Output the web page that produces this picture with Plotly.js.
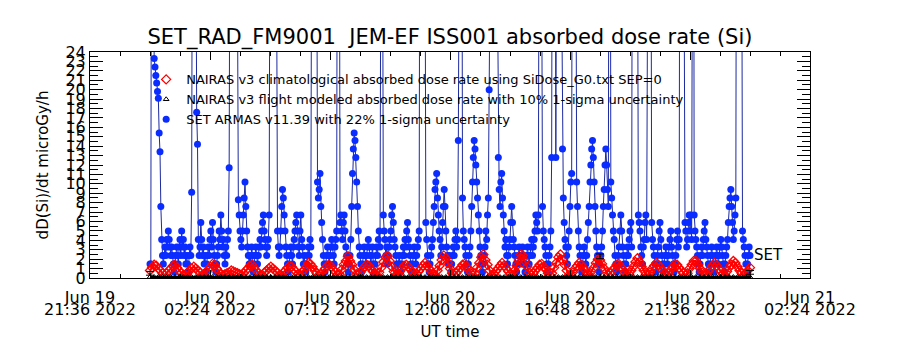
<!DOCTYPE html>
<html><head><meta charset="utf-8">
<script src="https://cdn.plot.ly/plotly-3.0.1.min.js"></script>
<style>html,body{margin:0;padding:0;background:#fff}#chart{width:900px;height:350px}</style>
</head><body><div id="chart"></div>
<script>
// ---- data (times in minutes after 2022-06-20 00:00 UT) ----
const startMs = Date.UTC(2022, 5, 20, 0, 0, 0);
const tickTimes = ['2022-06-19 21:36','2022-06-20 02:24','2022-06-20 07:12','2022-06-20 12:00','2022-06-20 16:48','2022-06-20 21:36','2022-06-21 02:24'];
const tickDayLabels = ['Jun 19','Jun 20','Jun 20','Jun 20','Jun 20','Jun 20','Jun 21'];
const tickTimeLabels = ['21:36 2022','02:24 2022','07:12 2022','12:00 2022','16:48 2022','21:36 2022','02:24 2022'];

// NAIRAS v3 climatological (5-min cadence)
const nairasClimStep = 5;
const nairasClim = [
0.8,1.1,1.4,1.3,1.0,0.8,0.5,0.3,0.5,0.8,1.0,1.3,
1.4,1.1,0.8,0.5,0.3,0.3,0.6,0.8,1.0,1.2,1.0,0.8,
0.6,0.3,0.3,0.6,0.9,1.2,1.5,1.4,1.0,0.7,0.4,0.3,
0.4,0.5,0.6,0.8,0.7,0.6,0.5,0.4,0.3,0.5,0.8,1.0,
1.3,1.4,1.1,0.8,0.5,0.3,0.3,0.6,0.8,1.0,1.2,1.0,
0.8,0.6,0.3,0.3,0.6,0.8,1.1,1.3,1.2,0.9,0.7,0.4,
0.3,0.6,0.9,1.2,1.6,1.5,1.2,0.8,0.5,0.3,0.4,0.7,
1.0,1.3,1.4,1.2,0.9,0.6,0.3,0.4,0.9,1.4,1.8,2.3,
1.8,1.4,0.9,0.4,0.3,0.6,0.9,1.2,1.4,1.3,1.0,0.7,
0.4,0.3,0.6,1.1,1.7,2.2,2.3,1.8,1.2,0.7,0.3,0.4,
0.7,1.0,1.3,1.4,1.2,0.9,0.6,0.3,0.4,0.7,1.0,1.3,
1.6,1.3,1.0,0.7,0.4,0.3,0.8,1.3,1.9,2.4,2.1,1.6,
1.0,0.5,0.3,0.5,0.8,1.1,1.4,1.5,1.2,0.9,0.5,0.3,
0.5,1.1,1.6,2.2,2.5,1.9,1.4,0.8,0.3,0.4,0.7,1.0,
1.3,1.6,1.3,1.0,0.7,0.4,0.3,0.8,1.3,1.9,2.5,2.4,
1.8,1.2,0.6,0.3,0.5,0.8,1.1,1.4,1.5,1.2,0.9,0.5,
0.3,0.5,1.1,1.6,2.2,2.5,1.9,1.4,0.8,0.3,0.3,0.6,
1.0,1.3,1.6,1.4,1.1,0.8,0.4,0.3,0.7,1.1,1.6,2.0,
1.9,1.5,1.0,0.6,0.3,0.5,0.8,1.1,1.4,1.5,1.2,0.9,
0.5,0.3,0.4,0.8,1.2,1.7,2.1,1.7,1.2,0.8,0.4,0.3,
0.6,1.0,1.3,1.6,1.4,1.1,0.8,0.4,0.3,0.5,0.9,1.2,
1.5,1.4,1.1,0.8,0.5,0.3,0.5,1.0,1.4,1.8,1.8,1.4,
1.0,0.6,0.3,0.4,0.7,1.0,1.3,1.6,1.3,1.0,0.7,0.4,
0.3,0.7,1.1,1.4,1.8,1.6,1.2,0.8,0.5,0.3,0.5,0.8,
1.1];

// NAIRAS v3 flight modeled (10-min cadence)
const nairasFlightStep = 10;
const nairasFlight = [
0.1,0.1,0.1,0.1,0.1,0.1,0.1,0.1,0.1,0.1,0.1,0.1,0.1,0.1,0.1,0.1,0.1,0.1,0.1,0.1,0.1,0.1,0.1,0.1,
0.1,0.1,0.1,0.1,0.1,0.1,0.1,0.1,0.1,0.1,0.1,0.1,0.1,0.1,0.1,0.1,0.1,0.1,0.1,0.1,0.1,0.1,0.1,0.1,
0.1,0.1,0.1,0.1,0.1,0.1,0.1,0.1,0.1,0.1,0.1,0.1,0.1,0.1,0.1,0.1,0.1,0.1,0.1,0.1,0.1,0.1,0.1,0.1,
0.1,0.1,0.1,0.1,0.1,0.1,0.1,0.1,0.1,0.1,0.1,0.1,0.1,0.1,0.1,0.1,0.1,0.1,0.1,0.1,0.1,0.1,0.1,0.1,
0.1,0.1,0.1,0.1,0.1,0.1,0.1,0.1,0.1,0.1,0.1,0.1,0.1,0.1,0.1,0.1,0.1,0.1,0.1,0.1,0.1,0.1,0.1,0.1,
0.1,0.1,0.1,0.1,0.1,0.1,0.1,0.1,0.1,0.1,0.1,0.1,0.1,0.1,0.1,0.1,0.1,0.1,0.1,0.1,0.1,0.1,0.1,0.1,
0.1];
// uncertainty markers
const errTimes = [0, 1080, 1440];
const errValues = [0.5, 2.3, 0.6];
const errSigma = [0.2, 0.25, 0.2];

// SET ARMAS v11.39 (2-min cadence), values above 24 run off the top
const setStep = 2;
const setArmas = [
1.5,1.5,60,80,40,23.3,22.4,21.5,20.7,19.8,19.1,15.4,13.4,7.6,4.1,2.4,1.5,2.4,3.3,2.4,4.1,3.3,5.0,4.1,3.3,2.4,3.3,2.4,1.5,0.65,
1.5,2.4,3.3,2.4,1.5,3.3,4.1,2.4,5.0,3.3,4.1,2.4,3.3,1.5,2.4,1.5,0.65,2.4,3.3,2.4,9.1,50,70,70,60,40,17.6,14.2,4.1,2.4,
3.3,5.9,4.1,2.4,3.3,1.5,2.4,0.65,1.5,2.4,3.3,2.4,4.1,5.0,3.3,5.9,4.1,2.4,1.5,0.65,1.5,2.4,3.3,5.0,4.1,6.7,5.0,3.3,4.1,2.4,
1.5,3.3,2.4,4.1,5.0,11.7,60,80,80,70,60,50,50,40,40,30,8.3,6.7,5.0,4.1,3.3,5.0,6.7,8.5,10.2,7.6,5.0,3.3,2.4,1.5,
2.4,1.5,3.3,2.4,0.65,1.5,2.4,3.3,2.4,1.5,2.4,3.3,4.1,3.3,5.0,5.9,6.7,5.0,4.1,3.3,2.4,3.3,4.1,6.7,60,80,80,70,60,50,
50,40,30,5.0,3.3,2.4,3.3,5.0,7.6,9.4,8.5,6.7,5.0,3.3,2.4,1.5,0.65,1.5,2.4,3.3,2.4,1.5,3.3,4.1,5.0,5.9,6.7,5.0,3.3,2.4,
5.0,6.7,4.1,3.3,1.5,2.4,1.5,0.65,1.5,2.4,3.3,2.4,4.1,3.3,60,80,80,80,70,60,40,10.2,8.5,9.4,11.1,7.6,5.9,4.1,2.4,1.5,
0.65,1.5,2.4,3.3,2.4,1.5,2.4,3.3,4.1,3.3,2.4,1.5,3.3,4.1,5.0,60,80,60,5.9,6.7,5.0,4.1,5.9,6.7,5.0,3.3,2.4,1.5,0.65,1.5,
2.4,4.1,7.6,11.1,13.7,15.4,14.6,12.8,10.2,7.6,5.0,3.3,2.4,1.5,0.65,1.5,2.4,3.3,2.4,1.5,2.4,3.3,4.1,3.3,2.4,1.5,2.4,3.3,1.5,0.65,
1.5,2.4,3.3,2.4,4.1,5.0,3.3,60,70,40,6.7,5.0,4.1,2.4,3.3,1.5,2.4,3.3,4.1,5.0,6.7,7.6,5.9,4.1,3.3,2.4,1.5,0.65,1.5,2.4,
1.5,0.65,1.5,2.4,3.3,2.4,4.1,3.3,5.0,5.9,4.1,3.3,2.4,1.5,0.65,1.5,2.4,3.3,2.4,1.5,2.4,3.3,4.1,5.0,60,80,80,80,70,60,
40,5.9,4.1,2.4,1.5,0.65,1.5,2.4,3.3,4.1,5.9,7.6,9.4,10.2,11.1,8.5,6.7,5.0,4.1,2.4,3.3,5.9,7.6,9.4,7.6,5.0,3.3,2.4,1.5,2.4,
1.5,0.65,1.5,2.4,3.3,2.4,4.1,5.0,3.3,4.1,14.6,60,80,80,60,8.5,5.0,4.1,3.3,2.4,1.5,0.65,1.5,2.4,3.3,5.0,7.6,10.2,12.8,14.6,
13.7,12.0,10.2,8.5,6.7,5.0,3.3,2.4,1.5,0.65,1.5,2.4,3.3,5.0,4.1,6.7,8.5,20,70,80,80,80,80,70,60,50,40,30,12.8,9.4,
7.6,10.2,11.1,8.5,6.7,5.0,3.3,4.1,2.4,1.5,2.4,3.3,4.1,5.9,7.6,5.9,4.1,3.3,2.4,1.5,0.65,1.5,2.4,3.3,2.4,1.5,2.4,3.3,2.4,1.5,
0.65,1.5,2.4,3.3,2.4,1.5,2.4,3.3,4.1,2.4,3.3,4.1,5.0,6.7,5.9,5.0,6.7,60,80,60,30,7.6,5.0,4.1,3.3,2.4,1.5,0.65,1.5,2.4,
3.3,5.0,12.8,60,80,80,70,12.8,60,80,70,60,50,40,30,13.7,8.5,5.9,4.1,3.3,2.4,1.5,3.3,5.0,7.6,10.2,11.1,60,80,70,
60,40,10.2,7.6,5.0,3.3,2.4,1.5,0.65,1.5,2.4,3.3,2.4,1.5,2.4,4.1,5.9,7.6,10.2,12.0,13.7,14.6,12.8,10.2,7.6,5.0,3.3,2.4,1.5,0.65,
1.5,2.4,3.3,5.0,7.6,9.4,12.0,13.7,12.0,9.4,7.6,60,70,10.2,8.5,6.7,5.0,4.1,2.4,1.5,0.65,1.5,2.4,3.3,5.0,6.7,5.0,3.3,2.4,1.5,
0.65,1.5,2.4,3.3,2.4,4.1,5.0,5.9,3.3,60,80,80,70,60,60,40,6.7,5.9,5.0,3.3,2.4,1.5,3.3,4.1,5.9,6.7,4.1,40,70,80,
70,50,5.9,4.1,3.3,2.4,1.5,0.65,1.5,2.4,3.3,5.0,5.9,4.1,2.4,1.5,0.65,1.5,2.4,3.3,2.4,1.5,2.4,3.3,4.1,5.0,3.3,2.4,1.5,0.65,
1.5,2.4,4.1,5.0,3.3,4.1,60,70,60,50,40,30,5.9,5.0,3.3,4.1,5.9,6.7,5.0,6.7,4.1,60,80,6.7,5.0,4.1,3.3,2.4,1.5,0.65,
1.5,2.4,3.3,2.4,4.1,5.0,5.9,4.1,3.3,2.4,1.5,0.65,1.5,2.4,3.3,2.4,1.5,0.65,1.5,2.4,3.3,2.4,1.5,2.4,3.3,4.1,3.3,2.4,1.5,0.65,
1.5,2.4,3.3,4.1,5.9,7.6,8.5,9.4,7.6,5.9,4.1,5.0,6.7,8.5,60,80,80,80,70,60,40,5.0,4.1,3.3,2.4,1.5,0.65,1.5,2.4,3.3,
2.4];

const legendNames = [
 'NAIRAS v3 climatological absorbed dose rate using SiDose_G0.txt SEP=0',
 'NAIRAS v3 flight modeled absorbed dose rate with 10% 1-sigma uncertainty',
 'SET ARMAS v11.39 with 22% 1-sigma uncertainty'];

// ---- helpers ----
function toDate(min){
  const d = new Date(startMs + min*60000);
  const p = n => String(n).padStart(2,'0');
  return d.getUTCFullYear()+'-'+p(d.getUTCMonth()+1)+'-'+p(d.getUTCDate())+' '+p(d.getUTCHours())+':'+p(d.getUTCMinutes())+':00';
}
const climX = nairasClim.map((v,i)=>toDate(i*nairasClimStep));
const flightX = nairasFlight.map((v,i)=>toDate(i*nairasFlightStep));
const setX = setArmas.map((v,i)=>toDate(i*setStep));
const errX = errTimes.map(toDate);

const FONT = 'DejaVu Sans, Verdana, sans-serif';
const traces = [
 {x:setX, y:setArmas, type:'scatter', mode:'lines', line:{color:'#1c2aa0', width:1}, showlegend:false, hoverinfo:'skip'},
 {x:setX, y:setArmas, type:'scatter', mode:'markers', name:legendNames[2], legendrank:3,
  marker:{symbol:'circle', size:7, color:'#0a2cff', line:{width:0}}},
 {x:climX, y:nairasClim, type:'scatter', mode:'lines', line:{color:'#ff0000', width:2.2}, showlegend:false, hoverinfo:'skip'},
 {x:climX, y:nairasClim, type:'scatter', mode:'markers', name:legendNames[0], legendrank:1,
  marker:{symbol:'diamond-open', size:7, color:'#ff0000', line:{width:1.3, color:'#ff0000'}}},
 {x:flightX, y:nairasFlight, type:'scatter', mode:'lines', showlegend:false, cliponaxis:false,
  line:{color:'#000000', width:2.5}, hoverinfo:'skip'},
 {x:flightX, y:nairasFlight, type:'scatter', mode:'markers', name:legendNames[1], legendrank:2, cliponaxis:false,
  marker:{symbol:'triangle-up-open', size:5, color:'#000', line:{width:1,color:'#000'}}},
 {x:errX, y:errValues, type:'scatter', mode:'markers', showlegend:false, cliponaxis:false,
  marker:{symbol:'line-ew', size:1, color:'#000', line:{width:1,color:'#000'}},
  error_y:{type:'data', array:errSigma, visible:true, color:'#000', thickness:1, width:4}},
 {x:[], y:[], xaxis:'x2', type:'scatter', showlegend:false}
];

const layout = {
  width:900, height:350,
  margin:{l:90, r:90, t:52, b:72},
  paper_bgcolor:'#ffffff', plot_bgcolor:'#ffffff',
  font:{family:FONT, size:14, color:'#000'},
  showlegend:true,
  title:{text:'SET_RAD_FM9001\u00a0 JEM-EF ISS001 absorbed dose rate (Si)', font:{family:FONT, size:21, color:'#000'},
         x:0.5, xanchor:'center', y:1-37/350, yanchor:'middle'},
  xaxis:{type:'date', range:[tickTimes[0], tickTimes[tickTimes.length-1]],
         tickmode:'array', tickvals:tickTimes, ticktext:tickDayLabels,
         ticks:'inside', ticklen:8, tickwidth:1, tickcolor:'#000',
         showline:true, linecolor:'#000', linewidth:1, mirror:'ticks',
         showgrid:false, zeroline:false, tickfont:{family:FONT, size:16}, ticklabelstandoff:5,
         minor:{tickmode:'linear', tick0:tickTimes[0], dtick:72*60000, ticks:'inside', ticklen:4, tickcolor:'#000', showgrid:false}},
  xaxis2:{type:'date', overlaying:'x', anchor:'y', side:'bottom', range:[tickTimes[0], tickTimes[tickTimes.length-1]],
         tickmode:'array', tickvals:tickTimes, ticktext:tickTimeLabels, ticks:'', showline:false, showgrid:false, zeroline:false,
         tickfont:{family:FONT, size:16}, ticklabelstandoff:20,
         title:{text:'UT time', font:{family:FONT, size:15}, standoff:8}},
  yaxis:{range:[0,24], tickmode:'linear', tick0:0, dtick:1,
         ticks:'inside', ticklen:13, tickwidth:1, tickcolor:'#000',
         showline:true, linecolor:'#000', linewidth:1, mirror:'ticks',
         showgrid:false, zeroline:false, tickfont:{family:FONT, size:16},
         minor:{dtick:0.5, ticks:'inside', ticklen:8, tickcolor:'#000', showgrid:false},
         title:{text:'dD(Si)/dt microGy/h', font:{family:FONT, size:15}, standoff:13}},
  legend:{x:0.078, xanchor:'left', y:0.945, yanchor:'top', bgcolor:'rgba(0,0,0,0)', borderwidth:0,
          font:{family:FONT, size:13, color:'#000'}, tracegroupgap:0},
  annotations:[{x:setX[setX.length-1], y:setArmas[setArmas.length-1], xref:'x', yref:'y', text:'SET',
                showarrow:false, xanchor:'left', yanchor:'middle', xshift:2, font:{family:FONT, size:15, color:'#000'}}]
};
Plotly.newPlot('chart', traces, layout, {staticPlot:true, displayModeBar:false});
</script></body></html>
